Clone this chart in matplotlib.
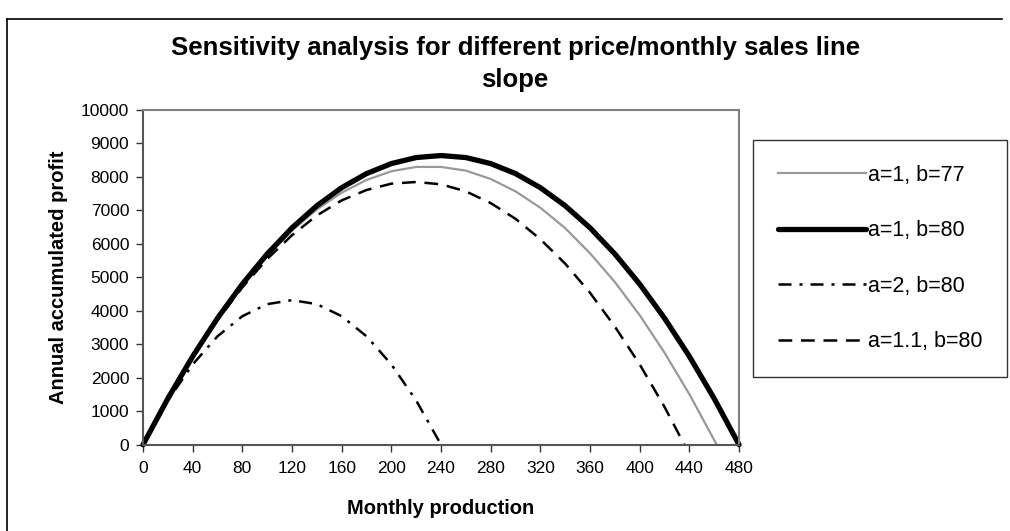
import matplotlib.pyplot as plt
from matplotlib.lines import Line2D

plt.rcParams['font.family'] = ['Liberation Sans', 'DejaVu Sans']

# values (monthly production -> annual accumulated profit)
x_b77 = [0, 20, 40, 60, 80, 100, 120, 140, 160, 180, 200, 220, 240, 260, 280, 300,
         320, 340, 360, 380, 400, 420, 440, 460, 462]
y_b77 = [0, 1380, 2630, 3760, 4760, 5640, 6400, 7030, 7530, 7910, 8170, 8300, 8300,
         8190, 7940, 7570, 7080, 6470, 5720, 4860, 3870, 2750, 1510, 140, 0]

x_b80 = [0, 20, 40, 60, 80, 100, 120, 140, 160, 180, 200, 220, 240, 260, 280, 300,
         320, 340, 360, 380, 400, 420, 440, 460, 480]
y_b80 = [0, 1380, 2640, 3780, 4800, 5700, 6480, 7140, 7680, 8100, 8400, 8580, 8640,
         8580, 8400, 8100, 7680, 7140, 6480, 5700, 4800, 3780, 2640, 1380, 0]

x_a2 = [0, 20, 40, 60, 80, 100, 120, 140, 160, 180, 200, 220, 240]
y_a2 = [0, 1320, 2400, 3240, 3840, 4200, 4320, 4200, 3840, 3240, 2400, 1320, 0]

x_a11 = [0, 20, 40, 60, 80, 100, 120, 140, 160, 180, 200, 220, 240, 260, 280, 300,
         320, 340, 360, 380, 400, 420, 436]
y_a11 = [0, 1370, 2620, 3730, 4700, 5550, 6260, 6850, 7300, 7610, 7800, 7850, 7780,
         7570, 7220, 6750, 6140, 5410, 4540, 3530, 2400, 1130, 0]

labels = ['a=1, b=77', 'a=1, b=80', 'a=2, b=80', 'a=1.1, b=80']

DASHDOT = (5.2, 3.2, 1.2, 3.2)
DASHED = (5.5, 3.5)

fig = plt.figure(figsize=(10.1, 5.31), dpi=100)
ax = fig.add_axes([0.1416, 0.1625, 0.5901, 0.6303])

ax.plot(x_b77, y_b77, color='#999999', lw=1.6, clip_on=False)
ax.plot(x_b80, y_b80, color='black', lw=3.8, solid_capstyle='round',
        solid_joinstyle='round', clip_on=False)
ax.plot(x_a2, y_a2, color='black', lw=1.8, dashes=DASHDOT, clip_on=False)
ax.plot(x_a11, y_a11, color='black', lw=1.8, dashes=DASHED, clip_on=False)

ax.set_xlim(0, 480)
ax.set_ylim(0, 10000)
ax.set_xticks(range(0, 481, 40))
ax.set_yticks(range(0, 10001, 1000))
ax.tick_params(direction='out', length=5, width=1, labelsize=12.5, pad=5,
               color='#333333')
ax.tick_params(axis='x', pad=7)

for side in ('top', 'right'):
    ax.spines[side].set_color('#808080')
    ax.spines[side].set_linewidth(1.5)
for side in ('left', 'bottom'):
    ax.spines[side].set_color('#555555')
    ax.spines[side].set_linewidth(1.5)

ax.set_xlabel('Monthly production', fontsize=14.5, fontweight='bold', labelpad=16)
ax.set_ylabel('Annual accumulated profit', fontsize=14.5, fontweight='bold', labelpad=9)

fig.text(0.51, 0.909, 'Sensitivity analysis for different price/monthly sales line',
         ha='center', va='center', fontsize=18.5, fontweight='bold')
fig.text(0.51, 0.849, 'slope', ha='center', va='center', fontsize=18.5,
         fontweight='bold')

handles = [
    Line2D([], [], color='#999999', lw=1.6),
    Line2D([], [], color='black', lw=3.8, solid_capstyle='round'),
    Line2D([], [], color='black', lw=1.8, dashes=DASHDOT),
    Line2D([], [], color='black', lw=1.8, dashes=DASHED),
]
leg = fig.legend(handles, labels, loc='upper left',
                 bbox_to_anchor=(753 / 1010, 1 - 140 / 531), borderaxespad=0,
                 fontsize=15.5, frameon=True, fancybox=False, edgecolor='black',
                 handlelength=4.1, handletextpad=0.1, labelspacing=1.6,
                 borderpad=1.15)
leg.get_frame().set_linewidth(1.0)

# outer chart border
fig.add_artist(Line2D([7 / 1010, 7 / 1010], [0, 1 - 19 / 531],
                      transform=fig.transFigure, color='black', lw=1.2))
fig.add_artist(Line2D([7 / 1010, 1002 / 1010], [1 - 19 / 531, 1 - 19 / 531],
                      transform=fig.transFigure, color='black', lw=1.2))

fig.savefig('out.png', dpi=100)
